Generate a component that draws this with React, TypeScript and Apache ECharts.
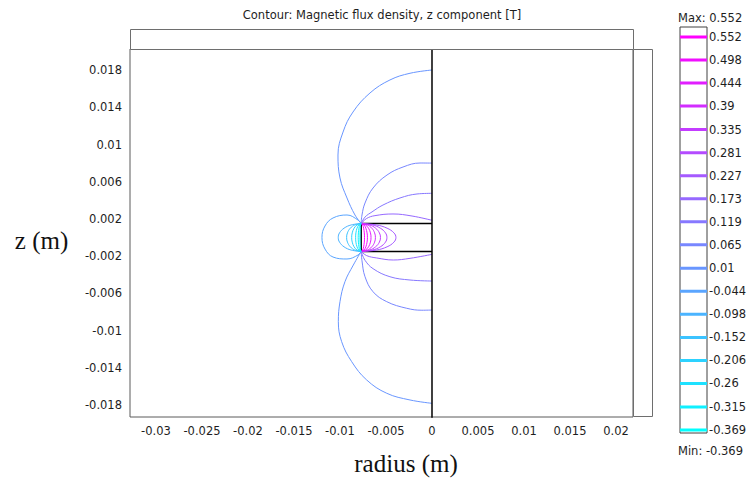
import React, { useEffect, useRef } from "react";
import * as echarts from "echarts";

// ---------- data ----------
const X_TICKS = [-0.03, -0.025, -0.02, -0.015, -0.01, -0.005, 0, 0.005, 0.01, 0.015, 0.02];
const Y_TICKS = [0.018, 0.014, 0.01, 0.006, 0.002, -0.002, -0.006, -0.01, -0.014, -0.018];
const LEVELS = [0.552, 0.498, 0.444, 0.39, 0.335, 0.281, 0.227, 0.173, 0.119, 0.065, 0.01,
  -0.044, -0.098, -0.152, -0.206, -0.26, -0.315, -0.369];
const V_MAX = 0.552;
const V_MIN = -0.369;

const MAGNET = [[0, 0.0015], [-0.0077, 0.0015], [-0.0077, -0.0015], [0, -0.0015]];
const SYM_AXIS = [[0, -0.0194], [0, 0.0203]];

// contour lines [r (m), z (m)]
const C_P0010_UP = [[-0.0077, 0.0015], [-0.00837, 0.00242], [-0.00924, 0.00425], [-0.01, 0.0064], [-0.01022, 0.00887], [-0.00967, 0.01134], [-0.00859, 0.01349], [-0.00674, 0.01554], [-0.00457, 0.01694], [-0.00239, 0.01766], [0, 0.01801]];
const C_P0010_LO = [[-0.0077, -0.0015], [-0.00855, -0.00296], [-0.00946, -0.00475], [-0.01, -0.0069], [-0.01018, -0.00905], [-0.00982, -0.0112], [-0.00873, -0.01335], [-0.0071, -0.01532], [-0.00492, -0.01675], [-0.00239, -0.01747], [0, -0.01783]];
const C_P0065_UP = [[-0.0077, 0.0015], [-0.00761, 0.00242], [-0.00728, 0.00371], [-0.00641, 0.00532], [-0.00489, 0.00672], [-0.00315, 0.00758], [-0.0013, 0.00801], [0, 0.008]];
const C_P0065_LO = [[-0.0077, -0.0015], [-0.00761, -0.0025], [-0.00728, -0.00422], [-0.00641, -0.00583], [-0.00492, -0.0069], [-0.00275, -0.00761], [-0.0011, -0.00782], [0, -0.0078]];
const C_P0119_UP = [[-0.0077, 0.0015], [-0.00728, 0.0022], [-0.00652, 0.00275], [-0.00533, 0.00349], [-0.00348, 0.00425], [-0.00163, 0.00468], [0, 0.00475]];
const C_P0119_LO = [[-0.0077, -0.0015], [-0.00728, -0.00245], [-0.00641, -0.00335], [-0.00457, -0.00422], [-0.00239, -0.00457], [0, -0.00468]];
const C_P0173_UP = [[-0.0077, 0.0015], [-0.0071, 0.00205], [-0.0062, 0.00235], [-0.00424, 0.00253], [-0.00217, 0.00231], [0, 0.00185]];
const C_P0173_LO = [[-0.0077, -0.0015], [-0.0071, -0.00195], [-0.00601, -0.0022], [-0.00421, -0.00242], [-0.00239, -0.00224], [0, -0.00181]];

const C_P0227 = [[-0.0077, 0.0015], [-0.00604, 0.00135], [-0.00488, 0.001], [-0.00414, 0.0005], [-0.00392, 0], [-0.00414, -0.0005], [-0.00488, -0.001], [-0.00604, -0.00135], [-0.0077, -0.0015]];
const C_P0281 = [[-0.0077, 0.0015], [-0.00647, 0.00135], [-0.00561, 0.001], [-0.00506, 0.0005], [-0.0049, 0], [-0.00506, -0.0005], [-0.00561, -0.001], [-0.00647, -0.00135], [-0.0077, -0.0015]];
const C_P0335 = [[-0.0077, 0.0015], [-0.00678, 0.00135], [-0.00613, 0.001], [-0.00572, 0.0005], [-0.0056, 0], [-0.00572, -0.0005], [-0.00613, -0.001], [-0.00678, -0.00135], [-0.0077, -0.0015]];
const C_P0390 = [[-0.0077, 0.0015], [-0.00702, 0.00135], [-0.00654, 0.001], [-0.00624, 0.0005], [-0.00615, 0], [-0.00624, -0.0005], [-0.00654, -0.001], [-0.00702, -0.00135], [-0.0077, -0.0015]];
const C_P0444 = [[-0.0077, 0.0015], [-0.00723, 0.00135], [-0.0069, 0.001], [-0.00669, 0.0005], [-0.00663, 0], [-0.00669, -0.0005], [-0.0069, -0.001], [-0.00723, -0.00135], [-0.0077, -0.0015]];
const C_P0498 = [[-0.0077, 0.0015], [-0.0074, 0.00135], [-0.00719, 0.001], [-0.00706, 0.0005], [-0.00702, 0], [-0.00706, -0.0005], [-0.00719, -0.001], [-0.0074, -0.00135], [-0.0077, -0.0015]];
const C_P0552 = [[-0.0077, 0.0015], [-0.00754, 0.00135], [-0.00743, 0.001], [-0.00736, 0.0005], [-0.00734, 0], [-0.00736, -0.0005], [-0.00743, -0.001], [-0.00754, -0.00135], [-0.0077, -0.0015]];

const C_N0044 = [[-0.0077, 0.0015], [-0.00804, 0.00188], [-0.00924, 0.00242], [-0.01076, 0.0021], [-0.01163, 0.00124], [-0.01196, 0], [-0.01163, -0.00124], [-0.01076, -0.0021], [-0.00924, -0.00231], [-0.00804, -0.00188], [-0.0077, -0.0015]];
const C_N0098 = [[-0.0077, 0.0015], [-0.00879, 0.00135], [-0.00956, 0.001], [-0.01005, 0.0005], [-0.01019, 0], [-0.01005, -0.0005], [-0.00956, -0.001], [-0.00879, -0.00135], [-0.0077, -0.0015]];
const C_N0152 = [[-0.0077, 0.0015], [-0.00839, 0.00135], [-0.00888, 0.001], [-0.00919, 0.0005], [-0.00928, 0], [-0.00919, -0.0005], [-0.00888, -0.001], [-0.00839, -0.00135], [-0.0077, -0.0015]];
const C_N0206 = [[-0.0077, 0.0015], [-0.00815, 0.00135], [-0.00847, 0.001], [-0.00867, 0.0005], [-0.00873, 0], [-0.00867, -0.0005], [-0.00847, -0.001], [-0.00815, -0.00135], [-0.0077, -0.0015]];
const C_N0260 = [[-0.0077, 0.0015], [-0.00796, 0.00135], [-0.00815, 0.001], [-0.00827, 0.0005], [-0.0083, 0], [-0.00827, -0.0005], [-0.00815, -0.001], [-0.00796, -0.00135], [-0.0077, -0.0015]];
const C_N0315 = [[-0.0077, 0.0015], [-0.00784, 0.00135], [-0.00794, 0.001], [-0.008, 0.0005], [-0.00802, 0], [-0.008, -0.0005], [-0.00794, -0.001], [-0.00784, -0.00135], [-0.0077, -0.0015]];
const C_N0369 = [[-0.0077, 0.0015], [-0.00776, 0.00135], [-0.0078, 0.001], [-0.00782, 0.0005], [-0.00783, 0], [-0.00782, -0.0005], [-0.0078, -0.001], [-0.00776, -0.00135], [-0.0077, -0.0015]];

const CONTOURS: [number, number[][]][] = [
  [0.01, C_P0010_UP], [0.01, C_P0010_LO],
  [0.065, C_P0065_UP], [0.065, C_P0065_LO],
  [0.119, C_P0119_UP], [0.119, C_P0119_LO],
  [0.173, C_P0173_UP], [0.173, C_P0173_LO],
  [0.227, C_P0227], [0.281, C_P0281], [0.335, C_P0335], [0.39, C_P0390],
  [0.444, C_P0444], [0.498, C_P0498], [0.552, C_P0552],
  [-0.044, C_N0044], [-0.098, C_N0098], [-0.152, C_N0152], [-0.206, C_N0206],
  [-0.26, C_N0260], [-0.315, C_N0315], [-0.369, C_N0369],
];

// ---------- styling ----------
const SANS = '"DejaVu Sans", Verdana, sans-serif';
const SERIF = '"Liberation Serif", "Times New Roman", serif';

function levelColor(v: number): string {
  const t = (v - V_MIN) / (V_MAX - V_MIN);
  const r = Math.round(255 * t);
  const g = Math.round(255 * (1 - t));
  return `rgb(${r},${g},255)`;
}

const fmt = (v: number) => String(Number(Number(v).toFixed(4)));

export default function App() {
  const ref = useRef<HTMLDivElement | null>(null);

  useEffect(() => {
    if (!ref.current) return;
    const chart = echarts.init(ref.current, undefined, { renderer: "svg" });

    const contourSeries = CONTOURS.map(([lv, pts]) => ({
      type: "line",
      xAxisIndex: 0,
      yAxisIndex: 0,
      data: pts,
      symbol: "none",
      showSymbol: false,
      smooth: 0.4,
      silent: true,
      z: 3,
      lineStyle: { color: levelColor(lv), width: 1 },
    }));

    const barSeries = LEVELS.map((lv) => ({
      type: "line",
      xAxisIndex: 1,
      yAxisIndex: 1,
      data: [[0, lv], [1, lv]],
      symbol: "none",
      silent: true,
      lineStyle: { color: levelColor(lv), width: 3 },
    }));

    const option = {
      animation: false,
      backgroundColor: "#ffffff",
      grid: [
        { left: 130, top: 49, width: 503, height: 368, show: true, borderColor: "#5a5a5a", borderWidth: 1, backgroundColor: "#fff" },
        { left: 680, top: 27, width: 27, height: 406, show: true, borderColor: "#404040", borderWidth: 1, backgroundColor: "#fff" },
      ],
      xAxis: [
        {
          type: "value", gridIndex: 0, min: -0.032826, max: 0.021848,
          axisLine: { show: false }, axisTick: { show: false }, splitLine: { show: false },
          axisLabel: { customValues: X_TICKS, formatter: fmt, margin: 8, fontSize: 11.5, fontFamily: SANS, color: "#1e1e1e" },
        },
        {
          type: "value", gridIndex: 1, min: 0, max: 1, show: false,
          axisLine: { show: false }, axisTick: { show: false }, splitLine: { show: false }, axisLabel: { show: false },
        },
      ],
      yAxis: [
        {
          type: "value", gridIndex: 0, min: -0.019301, max: 0.020269,
          axisLine: { show: false }, axisTick: { show: false }, splitLine: { show: false },
          axisLabel: { customValues: Y_TICKS, formatter: fmt, margin: 8, fontSize: 11.5, fontFamily: SANS, color: "#1e1e1e" },
        },
        {
          type: "value", gridIndex: 1, position: "right", min: -0.376, max: 0.5754,
          axisLine: { show: false }, axisTick: { show: false }, splitLine: { show: false },
          axisLabel: { customValues: LEVELS, formatter: fmt, margin: 2, fontSize: 11.5, fontFamily: SANS, color: "#1e1e1e" },
        },
      ],
      graphic: [
        { type: "rect", shape: { x: 130.5, y: 29.5, width: 503, height: 20 }, style: { fill: "#fff", stroke: "#6e6e6e", lineWidth: 1 }, z: 10 },
        { type: "rect", shape: { x: 633.5, y: 49.5, width: 19, height: 367 }, style: { fill: "#fff", stroke: "#6e6e6e", lineWidth: 1 }, z: 10 },
        { type: "text", x: 382, y: 15, style: { text: "Contour: Magnetic flux density, z component [T]", fontSize: 11.5, fontFamily: SANS, fill: "#1e1e1e", textAlign: "center", textVerticalAlign: "middle" }, z: 10 },
        { type: "text", x: 678, y: 18, style: { text: `Max: ${V_MAX}`, fontSize: 11.5, fontFamily: SANS, fill: "#1e1e1e", textAlign: "left", textVerticalAlign: "middle" }, z: 10 },
        { type: "text", x: 678, y: 451, style: { text: `Min: ${V_MIN}`, fontSize: 11.5, fontFamily: SANS, fill: "#1e1e1e", textAlign: "left", textVerticalAlign: "middle" }, z: 10 },
        { type: "text", x: 406, y: 463, style: { text: "radius (m)", fontSize: 25, fontFamily: SERIF, fill: "#111", textAlign: "center", textVerticalAlign: "middle" }, z: 10 },
        { type: "text", x: 41.5, y: 240, style: { text: "z (m)", fontSize: 25, fontFamily: SERIF, fill: "#111", textAlign: "center", textVerticalAlign: "middle" }, z: 10 },
      ],
      series: [
        {
          type: "line", xAxisIndex: 0, yAxisIndex: 0, data: SYM_AXIS, symbol: "none", silent: true, z: 4,
          lineStyle: { color: "#000", width: 1.5 },
        },
        {
          type: "line", xAxisIndex: 0, yAxisIndex: 0, data: MAGNET, symbol: "none", silent: true, z: 2,
          lineStyle: { color: "#000", width: 1.5 },
        },
        ...contourSeries,
        ...barSeries,
      ],
    };

    chart.setOption(option as any);
    return () => chart.dispose();
  }, []);

  return <div ref={ref} style={{ position: "absolute", left: 0, top: 0, width: 751, height: 478 }} />;
}
